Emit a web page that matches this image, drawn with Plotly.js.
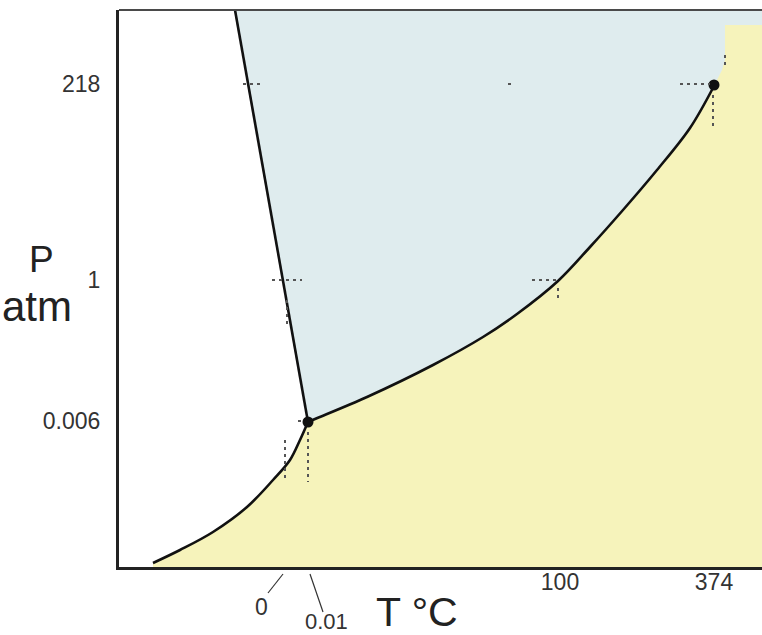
<!DOCTYPE html>
<html>
<head>
<meta charset="utf-8">
<script src="https://cdn.plot.ly/plotly-3.0.1.min.js"></script>
<style>html,body{margin:0;padding:0;background:#fff;}#chart{width:762px;height:635px;}</style>
</head>
<body>
<div id="chart"></div>
<script>
// Schematic (non-linear) diagram coordinates: T position, P position
// Sublimation curve (solid-gas), ends at triple point
const sublT = [34, 61, 94, 128, 154, 171, 181, 189];
const sublP = [4, 17, 35, 60, 87, 107, 127, 145];
// Vaporization curve (liquid-gas), triple point -> critical point
const vapT = [189, 196, 248, 314, 364, 398, 439, 471, 504, 538, 571, 595];
const vapP = [145, 148, 170, 202, 230, 253, 286, 320, 357, 397, 439, 481];
// Melting curve (solid-liquid), triple point -> top
const meltT = [189, 116];
const meltP = [145, 557];
// Supercritical edge of the gas area beyond the critical point
const edgeT = [595, 603, 606, 606, 643, 643, 595];
const edgeP = [481, 497, 507, 542, 542, 0, 0];
// Special points
const tripleT = [189], tripleP = [145];
const critT = [595], critP = [482];
// Tick positions and labels
const pTickPos = [146, 287, 483];
const pTickText = ['0.006', '1', '218'];
const tTickPos = [441, 595];
const tTickText = ['100', '374'];
const tLow = ['0', '0.01'];

const X_MAX = 643, Y_MAX = 557;

// Liquid (blue) background right of the melting line
const liqX = [meltT[1], meltT[0], meltT[0], X_MAX, X_MAX, meltT[1]];
const liqY = [meltP[1], meltP[0], 0, 0, Y_MAX, meltP[1]];

const YEL = '#f6f3bb';
const traces = [
  {x: liqX, y: liqY, type: 'scatter', mode: 'lines', fill: 'toself',
   fillcolor: '#dfecee', line: {width: 0, color: 'rgba(0,0,0,0)'}, hoverinfo: 'skip'},
  {x: edgeT, y: edgeP, type: 'scatter', mode: 'lines', fill: 'toself',
   fillcolor: YEL, line: {width: 0, color: 'rgba(0,0,0,0)'}, hoverinfo: 'skip'},
  {x: sublT, y: sublP, type: 'scatter', mode: 'lines', fill: 'tozeroy', fillcolor: YEL,
   line: {color: '#111', width: 2.6, shape: 'spline', smoothing: 1}},
  {x: vapT, y: vapP, type: 'scatter', mode: 'lines', fill: 'tozeroy', fillcolor: YEL,
   line: {color: '#111', width: 2.6, shape: 'spline', smoothing: 1}},
  {x: meltT, y: meltP, type: 'scatter', mode: 'lines', line: {color: '#111', width: 2.6}},
  {x: tripleT.concat(critT), y: tripleP.concat(critP), type: 'scatter', mode: 'markers',
   marker: {color: '#111', size: 11}}
];

function px(v){ return (v - 119) / 643; }
function py(v){ return (567 - v) / 557; }

const dashStyle = {color: '#555', width: 2, dash: '3px,4px'};
const frag = [
  [124,483,143,483],[389,483,395,483],[561,483,591,483],
  [153,287,183,287],[168,267,168,239],[413,287,437,287],[439,279,439,265],
  [179,146,186,146],[189,135,189,85],[166,127,166,89],[594,472,594,439],[606,512,606,499]
];
const shapes = frag.map(f => ({type:'line', xref:'x', yref:'y', x0:f[0], y0:f[1], x1:f[2], y1:f[3], line: dashStyle}));
shapes.push({type:'line', xref:'paper', yref:'paper', x0:0, x1:1, y0:1, y1:1, line:{color:'#4a4a4a', width:2}});
shapes.push({type:'line', xref:'paper', yref:'paper', x0:px(283), y0:py(574), x1:px(268), y1:py(593), line:{color:'#333', width:1.2}});
shapes.push({type:'line', xref:'paper', yref:'paper', x0:px(310), y0:py(574), x1:px(323), y1:py(612), line:{color:'#333', width:1.2}});

const FONT = 'Liberation Sans, Arial, sans-serif';
const annotations = [
  {text: 'P', xref:'paper', yref:'paper', x: px(41), y: py(259), xanchor:'center', yanchor:'middle', showarrow:false, font:{family:FONT, size:37, color:'#222'}},
  {text: 'atm', xref:'paper', yref:'paper', x: px(74), y: py(306), xanchor:'right', yanchor:'middle', showarrow:false, font:{family:FONT, size:42, color:'#222'}},
  {text: 'T °C', xref:'paper', yref:'paper', x: px(374), y: py(612), xanchor:'left', yanchor:'middle', showarrow:false, font:{family:FONT, size:41, color:'#222'}},
  {text: tLow[0], xref:'paper', yref:'paper', x: px(261), y: py(607), xanchor:'center', yanchor:'middle', showarrow:false, font:{family:FONT, size:23, color:'#333'}},
  {text: tLow[1], xref:'paper', yref:'paper', x: px(326), y: py(621), xanchor:'center', yanchor:'middle', showarrow:false, font:{family:FONT, size:22, color:'#333'}}
];

const layout = {
  width: 762, height: 635,
  margin: {l: 119, r: 0, t: 10, b: 68, pad: 0},
  paper_bgcolor: '#fff', plot_bgcolor: '#fff',
  showlegend: false,
  xaxis: {range: [0, X_MAX], showgrid: false, zeroline: false, showline: true, linecolor: '#222', linewidth: 3,
          tickvals: tTickPos, ticktext: tTickText, ticks: '', ticklabelstandoff: -8,
          tickfont: {family: FONT, size: 23, color: '#333'}, fixedrange: true},
  yaxis: {range: [0, Y_MAX], showgrid: false, zeroline: false, showline: true, linecolor: '#222', linewidth: 3,
          tickvals: pTickPos, ticktext: pTickText, ticks: '', ticklabelstandoff: 11,
          tickfont: {family: FONT, size: 23, color: '#333'}, fixedrange: true},
  shapes: shapes,
  annotations: annotations
};

Plotly.newPlot('chart', traces, layout, {displayModeBar: false, staticPlot: true});
</script>
</body>
</html>
